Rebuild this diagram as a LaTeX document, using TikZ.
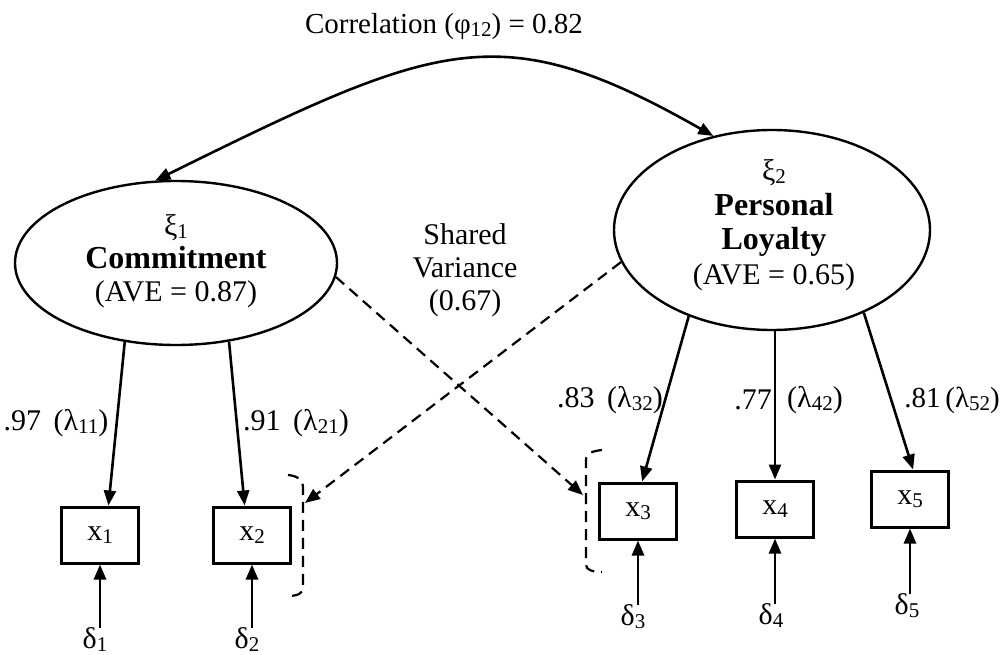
\documentclass[tikz,border=0pt]{standalone}
\usepackage{fontspec}
\setmainfont{Liberation Serif}
\usetikzlibrary{shapes.geometric,arrows.meta}
\newcommand{\subs}[1]{\raisebox{-0.1em}{\fontsize{21}{21}\selectfont #1}}
\tikzset{
  lat/.style={ellipse, draw, line width=2.4pt, inner sep=0pt},
  obs/.style={rectangle, draw, line width=3pt, minimum width=77pt, minimum height=56pt, inner sep=0pt, font=\fontsize{30}{33}\selectfont},
  txt/.style={inner sep=0pt, align=center, font=\fontsize{30}{33}\selectfont},
  tip/.style={-{Triangle[length=15pt,width=12pt]}},
  arr/.style={line width=2.6pt, tip},
  darr/.style={line width=2.2pt, dash pattern=on 11pt off 7pt, tip},
  brk/.style={line width=2.2pt, dash pattern=on 11pt off 7pt}
}
\begin{document}
\begin{tikzpicture}[x=1pt,y=-1pt]
\useasboundingbox (0,0) rectangle (1001,655);
% title
\node[txt, font=\fontsize{29}{33}\selectfont] (title) at (444,27) {Correlation (φ\subs{12}) = 0.82};
% latent variables
\node[lat, minimum width=322pt, minimum height=164pt] (e1) at (176,263) {};
\node[lat, minimum width=316pt, minimum height=200pt] (e2) at (772,230) {};
\node[txt] (t1) at (176,261) {ξ\subs{1}\\{\bfseries\fontsize{32}{33}\selectfont Commitment}\\(AVE = 0.87)};
\node[txt, font=\fontsize{30}{34.5}\selectfont] (t2) at (774,225) {ξ\subs{2}\\{\bfseries\fontsize{32}{34.5}\selectfont Personal}\\{\bfseries\fontsize{32}{34.5}\selectfont Loyalty}\\(AVE = 0.65)};
\node[txt] (sv) at (465,270) {Shared\\Variance\\(0.67)};
% observed
\node[obs] (x1) at (100,535) {x\subs{1}};
\node[obs] (x2) at (252,535) {x\subs{2}};
\node[obs] (x3) at (638,511) {x\subs{3}};
\node[obs] (x4) at (775,509) {x\subs{4}};
\node[obs] (x5) at (910,499) {x\subs{5}};
% errors
\node[txt] (d1) at (95,640) {δ\subs{1}};
\node[txt] (d2) at (247,640) {δ\subs{2}};
\node[txt] (d3) at (633,617) {δ\subs{3}};
\node[txt] (d4) at (771,616) {δ\subs{4}};
\node[txt] (d5) at (907,606) {δ\subs{5}};
% loading labels
\node[txt] (l11) at (56,423) {.97\, (λ\subs{11})};
\node[txt] (l21) at (296,423) {.91\, (λ\subs{21})};
\node[txt] (l32) at (610,400) {.83\, (λ\subs{32})};
\node[txt] (l42a) at (753,400) {.77};
\node[txt] (l42b) at (815,400) {(λ\subs{42})};
\node[txt, font=\fontsize{29}{33}\selectfont] (l52) at (952,400) {.81\,(λ\subs{52})};
% correlation
\draw[line width=2.6pt, {Triangle[length=15pt,width=12pt]}-{Triangle[length=15pt,width=12pt]}]
  (e1.104) .. controls (440,40) and (500,15) .. (e2.122);
% loadings
\draw[arr] (e1.-123.5) -- (x1.74);
\draw[arr] (e1.-56.5) -- (x2.104);
\draw[arr] (e2.-134) -- (x3.82);
\draw[arr] (x4.north |- e2.south) -- (x4.north);
\draw[arr] (e2.-42) -- (x5.84);
% errors
\draw[arr] (x1.south |- d1.north) -- (x1.south);
\draw[arr] (x2.south |- d2.north) -- (x2.south);
\draw[arr] (x3.south |- d3.north) -- (x3.south);
\draw[arr] (x4.south |- d4.north) -- (x4.south);
\draw[arr] (x5.south |- d5.north) -- (x5.south);
% brackets
\coordinate (b1) at (305,503);
\coordinate (b2) at (583,495);
\draw[brk] (288,475) .. controls (298,476) and (303,480) .. (303,488) -- (303,588) .. controls (303,593) and (298,596) .. (288,596);
\draw[brk] (602,450) .. controls (593,451) and (586,453) .. (586,460) -- (586,565) .. controls (586,570) and (593,572) .. (602,572);
% shared variance dashed arrows
\draw[darr] (e2.192) -- (b1);
\draw[darr] (e1.-5) -- (b2);
\end{tikzpicture}
\end{document}
